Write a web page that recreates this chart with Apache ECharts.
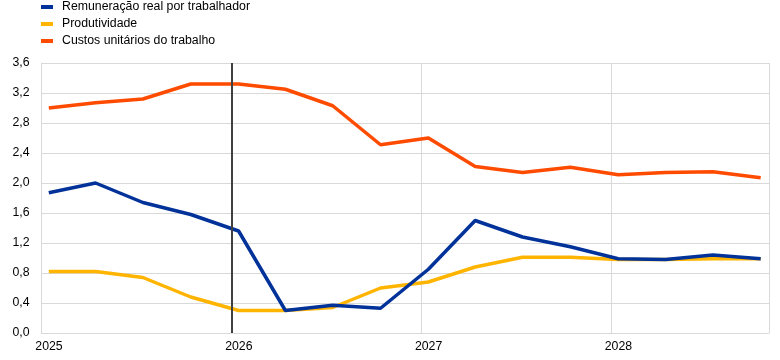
<!DOCTYPE html>
<html><head><meta charset="utf-8">
<script src="https://cdn.jsdelivr.net/npm/echarts@6/dist/echarts.min.js"></script>
<style>html,body{margin:0;padding:0;background:#fff}#c{width:780px;height:360px}</style>
</head><body><div id="c"></div>
<script>
var dates = ['2025-01-15','2025-04-15','2025-07-15','2025-10-15','2026-01-15','2026-04-15','2026-07-15','2026-10-15','2027-01-15','2027-04-15','2027-07-15','2027-10-15','2028-01-15','2028-04-15','2028-07-15','2028-10-15'];
var remuneracao = [1.87, 2.00, 1.74, 1.58, 1.36, 0.30, 0.37, 0.33, 0.85, 1.50, 1.28, 1.15, 0.99, 0.98, 1.04, 0.99];
var produtividade = [0.82, 0.82, 0.74, 0.48, 0.30, 0.30, 0.34, 0.60, 0.68, 0.88, 1.01, 1.01, 0.98, 0.98, 0.99, 0.99];
var custos = [3.00, 3.07, 3.12, 3.32, 3.32, 3.25, 3.03, 2.51, 2.60, 2.22, 2.14, 2.21, 2.11, 2.14, 2.15, 2.07];
var seriesNames = ['Remuneração real por trabalhador', 'Produtividade', 'Custos unitários do trabalho'];
var colors = ['#003299', '#ffb400', '#ff4b00'];
var markDate = '2026-01-01';

function pairs(v){ return v.map(function(y,i){ return [dates[i], y]; }); }
var chart = echarts.init(document.getElementById('c'));
var font = 'Arial, "Liberation Sans", sans-serif';
var mk = function(name, data, color, extra){
  var s = {name:name, type:'line', data:pairs(data), symbol:'none', lineStyle:{width:3.5, color:color}, itemStyle:{color:color}, z:3, animation:false};
  if (extra) for (var k in extra) s[k]=extra[k];
  return s;
};
chart.setOption({
  animation:false,
  textStyle:{fontFamily:font},
  legend:{orient:'vertical', left:41, top:0, padding:0, itemWidth:12, itemHeight:4, itemGap:3, icon:'rect',
    textStyle:{fontSize:12.3, color:'#000', fontFamily:font, lineHeight:14, padding:[0,0,0,4]},
    data:seriesNames},
  grid:{left:41.5, right:11, top:63, bottom:27, containLabel:false},
  xAxis:{type:'time', min:'2025-01-01', max:'2028-10-31',
    minInterval:365*86400000, maxInterval:366*86400000,
    axisLine:{show:true, lineStyle:{color:'#d9d9d9', width:1}},
    axisTick:{show:false},
    axisLabel:{formatter:'{yyyy}', color:'#000', fontSize:12.3, fontFamily:font, margin:8, padding:[0,0,0,15], showMaxLabel:false, showMinLabel:true},
    splitLine:{show:true, lineStyle:{color:'#d9d9d9', width:1}}},
  yAxis:{type:'value', min:0, max:3.6, interval:0.4,
    axisLine:{show:true, lineStyle:{color:'#d9d9d9', width:1}},
    axisTick:{show:false},
    axisLabel:{formatter:function(v){return v.toFixed(1).replace('.', ',');}, color:'#000', fontSize:12.3, fontFamily:font, margin:12},
    splitLine:{show:true, lineStyle:{color:'#d9d9d9', width:1}}},
  series:[
    mk(seriesNames[0], remuneracao, colors[0], {z:4, markLine:{silent:true, symbol:'none', label:{show:false}, lineStyle:{color:'#404040', width:2, type:'solid'}, data:[{xAxis:markDate}]}}),
    mk(seriesNames[1], produtividade, colors[1], {z:3}),
    mk(seriesNames[2], custos, colors[2], {z:3})
  ]
});
</script></body></html>
